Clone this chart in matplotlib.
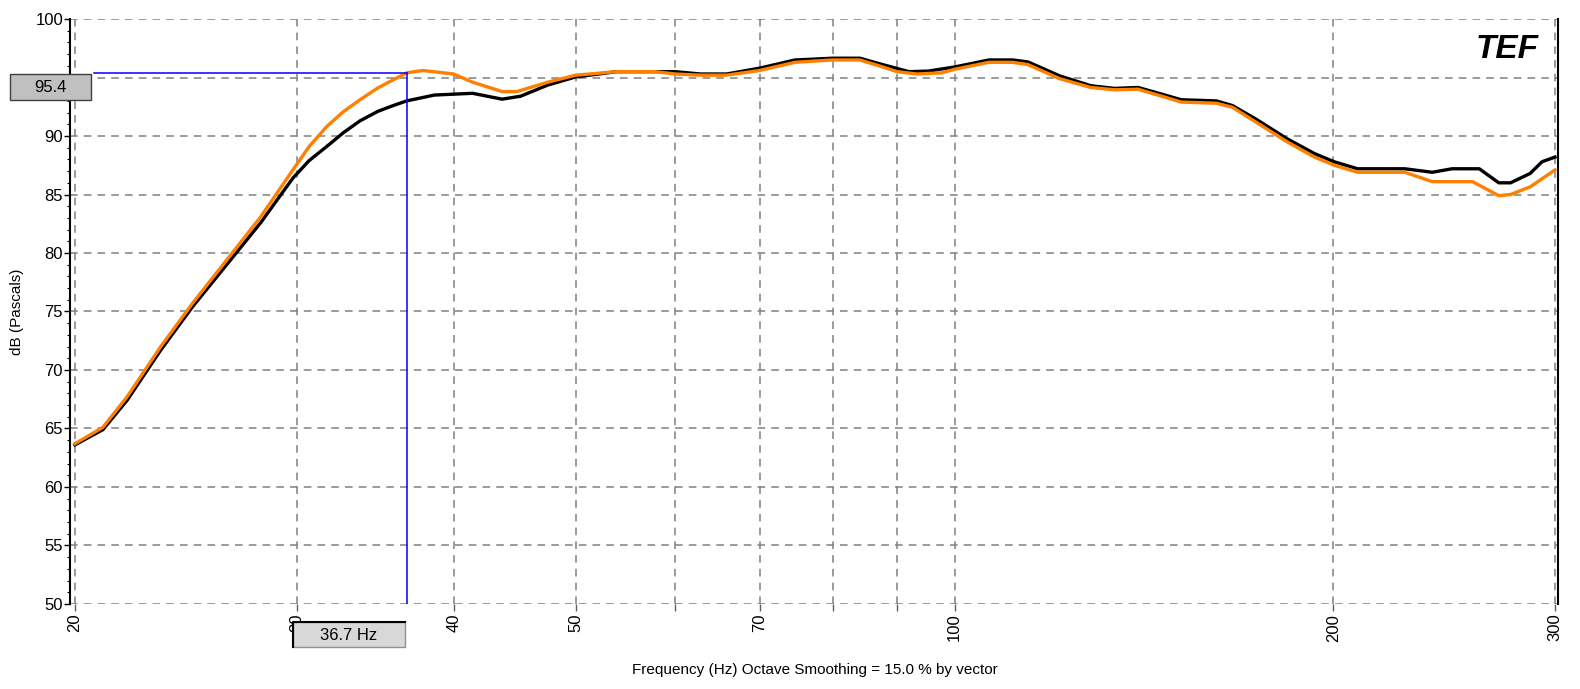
#%% Resposta em frequência - TEF (curvas preta e laranja)

import matplotlib.pyplot as plt
from matplotlib.patches import Rectangle

plt.rcParams['font.family'] = ['Liberation Sans', 'DejaVu Sans']

# Dados
freq_preta = [20, 21.05, 22.0, 23.4, 24.8, 26.4, 28.1, 29.8, 30.7, 31.7, 32.7, 33.7, 34.8, 35.8, 36.7, 38.6,
              41.4, 43.7, 45.2, 47.5, 50, 53.9, 60, 62.8, 65.9, 70, 74.7, 80, 84.1, 87.7, 92, 95.3, 100,
              106.5, 111.2, 114.4, 121.2, 128.3, 134, 139.9, 146.1, 151.4, 161.5, 166.3, 173.5, 183.8,
              193.2, 200.3, 209.1, 227.9, 239.7, 248.5, 261.2, 270.7, 276.6, 286.7, 293, 300]
db_preta = [63.6, 64.9, 67.4, 71.7, 75.4, 79.0, 82.6, 86.4, 87.9, 89.1, 90.3, 91.3, 92.1, 92.6, 93.0, 93.5,
            93.65, 93.15, 93.4, 94.35, 95.05, 95.5, 95.5, 95.3, 95.3, 95.8, 96.5, 96.65, 96.65, 96.1, 95.5, 95.55,
            95.9, 96.5, 96.5, 96.33, 95.14, 94.3, 94.07, 94.15, 93.58, 93.1, 93.0, 92.6, 91.46, 89.76,
            88.5, 87.8, 87.2, 87.2, 86.9, 87.2, 87.2, 86.0, 86.0, 86.8, 87.8, 88.2]

freq_laranja = [20, 21.05, 22.0, 23.4, 24.8, 26.4, 28.1, 29.8, 30.7, 31.7, 32.7, 33.7, 34.8, 35.8, 36.7,
                37.8, 40.0, 41.4, 43.7, 44.9, 47.5, 50, 53.9, 57.8, 60, 62.8, 65.9, 70, 74.7, 80, 84.1,
                87.7, 90, 93.4, 97.7, 100, 106.5, 111.2, 114.4, 121.2, 128.3, 134, 139.9, 146.1, 151.4,
                161.5, 166.3, 173.5, 183.8, 193.2, 200.3, 209.1, 227.9, 239.7, 258, 270.7, 276.6, 286.7, 300]
db_laranja = [63.7, 65.1, 67.7, 72.0, 75.7, 79.4, 83.1, 87.1, 89.1, 90.8, 92.1, 93.1, 94.1, 94.8, 95.4,
              95.6, 95.3, 94.6, 93.8, 93.8, 94.6, 95.2, 95.5, 95.5, 95.3, 95.2, 95.2, 95.6, 96.3, 96.5, 96.5,
              95.9, 95.5, 95.3, 95.4, 95.7, 96.3, 96.3, 96.1, 94.9, 94.15, 93.95, 94.0, 93.4, 92.9,
              92.8, 92.45, 91.2, 89.5, 88.2, 87.5, 86.9, 86.9, 86.1, 86.1, 84.9, 85.0, 85.65, 87.1]

grade_x = [20, 30, 40, 50, 60, 70, 80, 90, 100, 200, 300]
rotulos_x = ['20', '30', '40', '50', '', '70', '', '', '100', '200', '300']
ticks_y = list(range(50, 101, 5))
rotulos_y = ['50', '55', '60', '65', '70', '75', '80', '85', '90', '', '100']  # 95 fica sob a caixa

cursor_freq = 36.7
cursor_db = 95.4

#%% Figura

fig = plt.figure(figsize=(15.8, 6.89), dpi=100)
ax = fig.add_axes([0.0443, 0.1234, 0.9418, 0.849])

ax.set_xscale('log')
ax.set_xlim(19.82, 301.7)
ax.set_ylim(50, 100)

# grade tracejada
for f in grade_x:
    ax.axvline(f, color='#808080', linestyle=(0, (5, 4)), linewidth=1.1, zorder=1)
for v in ticks_y:
    ax.axhline(v, color='#808080', linestyle=(0, (5, 4)), linewidth=1.1, zorder=1)

# curvas
ax.plot(freq_preta, db_preta, color='black', linewidth=2.4, zorder=3)
ax.plot(freq_laranja, db_laranja, color='#ff7f00', linewidth=2.4, zorder=4)

# cursor azul
ax.plot([cursor_freq, cursor_freq], [50, cursor_db], color='#0000ff', linewidth=1.1, zorder=5)
ax.plot([20.7, cursor_freq], [cursor_db, cursor_db], color='#0000ff', linewidth=1.1, zorder=5)

# eixos
ax.spines['top'].set_visible(False)
ax.spines['bottom'].set_visible(False)
ax.spines['left'].set_linewidth(1.5)
ax.spines['right'].set_linewidth(1.5)

ax.set_xticks(grade_x)
ax.set_xticklabels(rotulos_x, rotation=90, fontsize=12)
ax.xaxis.set_minor_locator(plt.NullLocator())
ax.tick_params(axis='x', length=5, width=1, color='#606060', pad=2)
ax.set_yticks(ticks_y)
ax.set_yticklabels(rotulos_y, fontsize=12)
ax.set_yticks(range(50, 101), minor=True)
ax.tick_params(axis='y', which='major', length=4, width=1, pad=1)
ax.tick_params(axis='y', which='minor', length=2, width=0.8)

ax.set_ylabel('dB (Pascals)', fontsize=11, labelpad=8)
fig.text(0.516, 0.027, 'Frequency (Hz) Octave Smoothing = 15.0 % by vector',
         ha='center', va='center', fontsize=11)

# caixa do valor em dB
fig.patches.append(Rectangle((10 / 1580, 1 - 100 / 689), 81 / 1580, 26 / 689,
                             transform=fig.transFigure, facecolor='#c0c0c0',
                             edgecolor='#404040', linewidth=1, zorder=10))
fig.text(50 / 1580, 1 - 88 / 689, '95.4', ha='center', va='center', fontsize=12, zorder=11)

# caixa da frequência
fig.patches.append(Rectangle((293 / 1580, 1 - 647 / 689), 112 / 1580, 25 / 689,
                             transform=fig.transFigure, facecolor='#d8d8d8',
                             edgecolor='#909090', linewidth=1, zorder=10))
fig.lines.append(plt.Line2D([293 / 1580, 293 / 1580, 405 / 1580], [1 - 647 / 689, 1 - 622 / 689, 1 - 622 / 689],
                            transform=fig.transFigure, color='black', linewidth=1.5, zorder=11))
fig.text(349 / 1580, 1 - 636 / 689, '36.7 Hz', ha='center', va='center', fontsize=12, zorder=11)

# logo TEF
ax.text(0.987, 0.975, 'TEF', transform=ax.transAxes, ha='right', va='top',
        fontsize=24, fontweight='bold', style='italic', color='black', zorder=6)

fig.savefig('out.png', dpi=100)
